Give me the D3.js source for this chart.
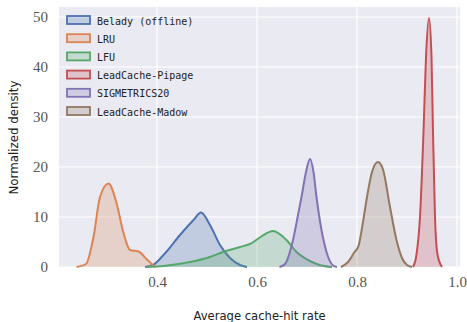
<!DOCTYPE html>
<html>
<head>
<meta charset="utf-8">
<script src="https://cdn.jsdelivr.net/npm/d3@7"></script>
<style>
  body { margin: 0; background: #fff; }
</style>
</head>
<body>
<script>
// series names, in legend order
var names = ["Belady (offline)", "LRU", "LFU", "LeadCache-Pipage", "SIGMETRICS20", "LeadCache-Madow"];
var colors = ["#4C72B0", "#DD8452", "#55A868", "#C44E52", "#8172B3", "#937860"];

// density curves, [hit rate, density]
var belady = [[0.376,0],[0.392,0.4],[0.413,2.4],[0.446,6.4],[0.473,9.4],[0.488,10.9],[0.506,8.4],[0.526,4.4],[0.546,1.8],[0.566,0.4],[0.58,0]];
var lru = [[0.239,0],[0.258,0.6],[0.273,6],[0.286,14],[0.303,16.7],[0.319,12.8],[0.333,6.8],[0.346,3.4],[0.363,3.1],[0.379,1.6],[0.396,0]];
var lfu = [[0.38,0],[0.413,0.2],[0.466,1],[0.506,2],[0.532,3],[0.566,4],[0.586,4.6],[0.61,6.2],[0.632,7.2],[0.659,5.4],[0.679,3],[0.706,1.2],[0.725,0.4],[0.75,0]];
var pipage = [[0.912,0],[0.919,2.5],[0.926,10],[0.933,27],[0.938,42],[0.944,49.8],[0.949,42],[0.952,27],[0.956,10],[0.961,2.5],[0.97,0]];
var sigmetrics = [[0.645,0],[0.656,0.6],[0.672,5.4],[0.682,10.4],[0.689,14],[0.698,19],[0.706,21.6],[0.713,19],[0.719,14],[0.729,7.4],[0.739,3],[0.752,0.3],[0.76,0]];
var madow = [[0.768,0],[0.782,1],[0.795,3],[0.803,4.2],[0.812,9],[0.82,14],[0.83,19],[0.842,21],[0.852,19.5],[0.866,12],[0.879,5.4],[0.89,1.8],[0.9,0.4],[0.91,0]];
var series = [belady, lru, lfu, pipage, sigmetrics, madow];

var xTicks = [0.4, 0.6, 0.8, 1.0];
var yTicks = [0, 10, 20, 30, 40, 50];

var w = 467, h = 322;
var margin = {top: 7, right: 7, bottom: 55, left: 59};

var svg = d3.select("body").append("svg")
    .attr("width", w)
    .attr("height", h);

var x = d3.scaleLinear().domain([0.204, 1.006]).range([margin.left, w - margin.right]);
var y = d3.scaleLinear().domain([0, 52]).range([h - margin.bottom, margin.top]);

//background
svg.append("rect")
    .attr("x", margin.left)
    .attr("y", margin.top)
    .attr("width", w - margin.left - margin.right)
    .attr("height", h - margin.top - margin.bottom)
    .style("fill", "#EAEAF2");

//grid lines
svg.append("g").selectAll("line").data(xTicks).enter().append("line")
    .attr("x1", function(d) { return x(d); })
    .attr("x2", function(d) { return x(d); })
    .attr("y1", margin.top)
    .attr("y2", h - margin.bottom)
    .style("stroke", "#fff").style("stroke-width", 1.2);
svg.append("g").selectAll("line").data(yTicks).enter().append("line")
    .attr("x1", margin.left)
    .attr("x2", w - margin.right)
    .attr("y1", function(d) { return y(d); })
    .attr("y2", function(d) { return y(d); })
    .style("stroke", "#fff").style("stroke-width", 1.2);

var area = d3.area()
    .x(function(d) { return x(d[0]); })
    .y0(y(0))
    .y1(function(d) { return y(d[1]); })
    .curve(d3.curveMonotoneX);
var line = area.lineY1();

var curves = svg.append("g").selectAll("g").data(series).enter().append("g");
curves.append("path")
    .attr("d", area)
    .style("fill", function(d, i) { return colors[i]; })
    .style("fill-opacity", 0.25);
curves.append("path")
    .attr("d", line)
    .style("fill", "none")
    .style("stroke", function(d, i) { return colors[i]; })
    .style("stroke-width", 2)
    .style("stroke-linejoin", "round");

//axes
svg.append("g")
    .attr("transform", "translate(0," + (h - margin.bottom) + ")")
    .call(d3.axisBottom(x).tickValues(xTicks).tickFormat(d3.format(".1f")).tickSize(0).tickPadding(9));
svg.append("g")
    .attr("transform", "translate(" + margin.left + ",0)")
    .call(d3.axisLeft(y).tickValues(yTicks).tickSize(0).tickPadding(11));
svg.selectAll(".domain").remove();
svg.selectAll(".tick text")
    .attr("font-family", null)
    .style("font-family", "'Liberation Serif', 'DejaVu Serif', serif")
    .style("font-size", "15px")
    .style("fill", "#555");

svg.append("text")
    .attr("x", (margin.left + w - margin.right) / 2)
    .attr("y", 320)
    .attr("text-anchor", "middle")
    .style("font-family", "DejaVu Sans, sans-serif")
    .style("font-size", "11.6px")
    .style("fill", "#222")
    .text("Average cache-hit rate");
svg.append("text")
    .attr("transform", "translate(18,137.5) rotate(-90)")
    .attr("text-anchor", "middle")
    .style("font-family", "DejaVu Sans, sans-serif")
    .style("font-size", "11.8px")
    .style("fill", "#222")
    .text("Normalized density");

//legend
var legend = svg.append("g").selectAll("g").data(names).enter().append("g")
    .attr("transform", function(d, i) { return "translate(67," + (16 + i * 18.2) + ")"; });
legend.append("rect")
    .attr("width", 23).attr("height", 8)
    .style("fill", function(d, i) { return colors[i]; })
    .style("fill-opacity", 0.25)
    .style("stroke", function(d, i) { return colors[i]; })
    .style("stroke-width", 1.8);
legend.append("text")
    .attr("x", 30).attr("y", 8.5)
    .style("font-family", "DejaVu Sans Mono, monospace")
    .style("font-size", "10px")
    .style("fill", "#222")
    .text(function(d) { return d; });
</script>
</body>
</html>
